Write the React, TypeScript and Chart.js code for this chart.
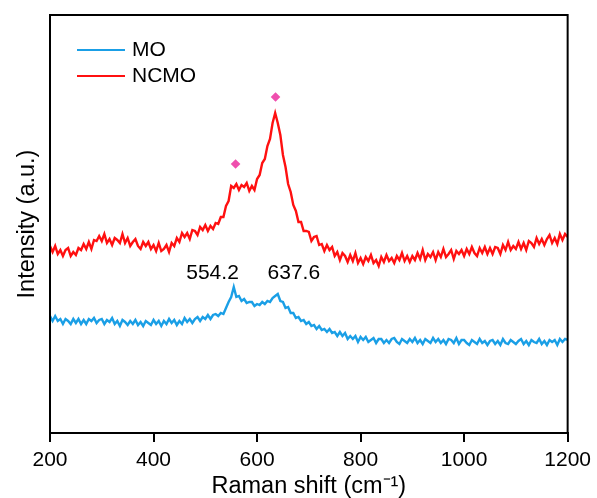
import React, { useEffect, useRef } from 'react';
import { Chart, registerables } from 'chart.js';

Chart.register(...registerables);

const ramanShift = [
  200, 205, 210, 215, 220, 225, 230, 235, 240, 245,
  250, 255, 260, 265, 270, 275, 280, 285, 290, 295,
  300, 305, 310, 315, 320, 325, 330, 335, 340, 345,
  350, 355, 360, 365, 370, 375, 380, 385, 390, 395,
  400, 405, 410, 415, 420, 425, 430, 435, 440, 445,
  450, 455, 460, 465, 470, 475, 480, 485, 490, 495,
  500, 505, 510, 515, 520, 525, 530, 535, 540, 545,
  550, 555, 560, 565, 570, 575, 580, 585, 590, 595,
  600, 605, 610, 615, 620, 625, 630, 635, 640, 645,
  650, 655, 660, 665, 670, 675, 680, 685, 690, 695,
  700, 705, 710, 715, 720, 725, 730, 735, 740, 745,
  750, 755, 760, 765, 770, 775, 780, 785, 790, 795,
  800, 805, 810, 815, 820, 825, 830, 835, 840, 845,
  850, 855, 860, 865, 870, 875, 880, 885, 890, 895,
  900, 905, 910, 915, 920, 925, 930, 935, 940, 945,
  950, 955, 960, 965, 970, 975, 980, 985, 990, 995,
  1000, 1005, 1010, 1015, 1020, 1025, 1030, 1035, 1040, 1045,
  1050, 1055, 1060, 1065, 1070, 1075, 1080, 1085, 1090, 1095,
  1100, 1105, 1110, 1115, 1120, 1125, 1130, 1135, 1140, 1145,
  1150, 1155, 1160, 1165, 1170, 1175, 1180, 1185, 1190, 1195,
  1200,
];

const moIntensity = [
  117, 112, 117, 112, 114, 109, 114, 112, 109, 114,
  110, 114, 109, 113, 109, 114, 112, 115, 110, 113,
  114, 109, 113, 111, 115, 109, 112, 107, 113, 111,
  108, 112, 109, 113, 108, 111, 107, 112, 110, 108,
  113, 109, 112, 107, 112, 109, 114, 110, 113, 108,
  112, 109, 115, 111, 114, 110, 114, 116, 112, 116,
  114, 118, 114, 118, 119, 117, 120, 119, 125, 131,
  136, 146, 136, 137, 132, 134, 130, 131, 131, 127,
  129, 128, 131, 129, 132, 131, 135, 137, 139, 132,
  131, 125, 126, 120, 120, 115, 116, 112, 113, 109,
  111, 107, 108, 104, 107, 103, 104, 101, 104, 100,
  101, 97, 101, 97, 100, 94, 97, 94, 97, 91,
  96, 93, 96, 91, 93, 95, 90, 94, 94, 90,
  93, 90, 94, 95, 91, 89, 94, 92, 90, 94,
  91, 95, 90, 93, 89, 94, 92, 90, 95, 91,
  94, 90, 93, 89, 94, 93, 90, 95, 89, 93,
  93, 90, 88, 93, 91, 89, 94, 90, 92, 88,
  92, 93, 89, 92, 88, 94, 90, 89, 93, 91,
  89, 92, 94, 89, 92, 88, 93, 91, 90, 94,
  89, 92, 88, 93, 91, 93, 88, 94, 91, 94,
  93,
];

const ncmoIntensity = [
  187, 181, 187, 179, 183, 177, 183, 185, 177, 181,
  178, 185, 183, 189, 184, 191, 184, 193, 192, 197,
  192, 199, 190, 194, 188, 195, 193, 190, 199, 190,
  195, 187, 191, 194, 187, 184, 191, 187, 191, 184,
  188, 182, 190, 182, 184, 188, 181, 190, 187, 195,
  191, 200, 196, 200, 194, 203, 202, 198, 206, 203,
  208, 202, 207, 204, 210, 209, 216, 216, 227, 232,
  247, 245, 249, 243, 248, 246, 250, 242, 247, 243,
  254, 258, 270, 274, 287, 294, 310, 320, 310, 298,
  278, 266, 249, 241, 228, 222, 211, 211, 202, 202,
  201, 192, 196, 197, 188, 189, 182, 188, 183, 186,
  177, 181, 173, 180, 177, 171, 178, 172, 180, 170,
  175, 169, 176, 172, 178, 170, 173, 167, 176, 171,
  178, 172, 175, 170, 177, 173, 180, 172, 177, 171,
  177, 173, 180, 174, 183, 173, 179, 176, 181, 173,
  181, 176, 184, 176, 179, 183, 174, 182, 179, 183,
  177, 184, 179, 186, 180, 177, 185, 180, 186, 179,
  185, 179, 186, 185, 179, 188, 183, 191, 183, 187,
  184, 191, 184, 190, 183, 192, 190, 186, 195, 189,
  194, 188, 194, 198, 190, 195, 189, 199, 193, 199,
  196,
];

const seriesNames = ['MO', 'NCMO'];
const seriesColors = ['#1a9fe6', '#ff1010'];

const markerShift = [558.5, 635.7];
const markerIntensity = [269, 336];

const peakLabels = ['554.2', '637.6'];
const peakLabelShift = [514, 671];
const peakLabelIntensity = [160, 160];

const xTicks = [200, 400, 600, 800, 1000, 1200];

const FONT = "'Liberation Sans', Arial, sans-serif";

const framePlugin = {
  id: 'frameBox',
  afterDatasetsDraw(chart: any) {
    const { ctx, chartArea: a } = chart;
    ctx.save();
    ctx.strokeStyle = '#000';
    ctx.lineWidth = 2;
    ctx.strokeRect(a.left, a.top, a.right - a.left, a.bottom - a.top);
    ctx.restore();
  },
};

const legendPlugin = {
  id: 'insideLegend',
  afterDraw(chart: any) {
    const { ctx, chartArea: a } = chart;
    ctx.save();
    seriesNames.forEach((name, i) => {
      const y = a.top + 35 + i * 26;
      ctx.strokeStyle = seriesColors[i];
      ctx.lineWidth = 2;
      ctx.beginPath();
      ctx.moveTo(a.left + 27, y);
      ctx.lineTo(a.left + 75, y);
      ctx.stroke();
      ctx.fillStyle = '#000';
      ctx.font = `21px ${FONT}`;
      ctx.textAlign = 'left';
      ctx.textBaseline = 'middle';
      ctx.fillText(name, a.left + 82, y);
    });
    ctx.restore();
  },
};

const peakLabelPlugin = {
  id: 'peakLabels',
  afterDraw(chart: any) {
    const { ctx, scales } = chart;
    ctx.save();
    ctx.fillStyle = '#000';
    ctx.font = `21px ${FONT}`;
    ctx.textAlign = 'center';
    ctx.textBaseline = 'middle';
    peakLabels.forEach((t, i) => {
      const x = scales.x.getPixelForValue(peakLabelShift[i]);
      const y = scales.y.getPixelForValue(peakLabelIntensity[i]);
      ctx.fillText(t, x, y);
    });
    ctx.restore();
  },
};

export default function App() {
  const canvasRef = useRef<HTMLCanvasElement | null>(null);

  useEffect(() => {
    if (!canvasRef.current) return;
    const chart = new Chart(canvasRef.current, {
      type: 'line',
      data: {
        datasets: [
          {
            label: seriesNames[0],
            data: ramanShift.map((x, i) => ({ x, y: moIntensity[i] })),
            borderColor: seriesColors[0],
            borderWidth: 2.4,
            pointRadius: 0,
            tension: 0,
          },
          {
            label: seriesNames[1],
            data: ramanShift.map((x, i) => ({ x, y: ncmoIntensity[i] })),
            borderColor: seriesColors[1],
            borderWidth: 2.4,
            pointRadius: 0,
            tension: 0,
          },
          {
            label: 'markers',
            data: markerShift.map((x, i) => ({ x, y: markerIntensity[i] })),
            showLine: false,
            pointStyle: 'rectRot',
            pointRadius: 4.8,
            pointBackgroundColor: '#ef4fae',
            pointBorderColor: '#ef4fae',
            pointBorderWidth: 0,
          },
        ],
      },
      options: {
        animation: false,
        responsive: false,
        devicePixelRatio: 1,
        layout: { padding: { top: 15, right: 29, left: 0, bottom: 0 } },
        plugins: { legend: { display: false }, tooltip: { enabled: false } },
        scales: {
          x: {
            type: 'linear',
            min: 200,
            max: 1200,
            afterBuildTicks: (scale: any) => {
              scale.ticks = xTicks.map((v) => ({ value: v }));
            },
            afterFit: (scale: any) => {
              scale.height = 65;
            },
            ticks: {
              color: '#000',
              font: { family: FONT, size: 21 },
              padding: 6,
              maxRotation: 0,
              autoSkip: false,
              callback: (v: any) => String(v),
            },
            grid: {
              display: true,
              drawOnChartArea: false,
              drawTicks: true,
              tickLength: 9,
              color: '#000',
              lineWidth: 2,
            },
            border: { display: true, color: '#000', width: 2 },
            title: {
              display: true,
              text: 'Raman shift (cm⁻¹)',
              color: '#000',
              font: { family: FONT, size: 23.5, lineHeight: 1 },
              padding: { top: 0, bottom: 0 },
            },
          },
          y: {
            type: 'linear',
            min: 0,
            max: 418,
            afterFit: (scale: any) => {
              scale.width = 50;
            },
            ticks: { display: false },
            grid: { display: false },
            border: { display: true, color: '#000', width: 2 },
            title: {
              display: true,
              text: 'Intensity (a.u.)',
              color: '#000',
              font: { family: FONT, size: 23.5, lineHeight: 1 },
              padding: { top: 16, bottom: 0 },
            },
          },
        },
      },
      plugins: [framePlugin, legendPlugin, peakLabelPlugin],
    } as any);
    return () => chart.destroy();
  }, []);

  return (
    <div style={{ position: 'absolute', left: 0, top: 0, width: 597, height: 498, background: '#fff' }}>
      <canvas ref={canvasRef} width={597} height={498} style={{ display: 'block' }} />
    </div>
  );
}
